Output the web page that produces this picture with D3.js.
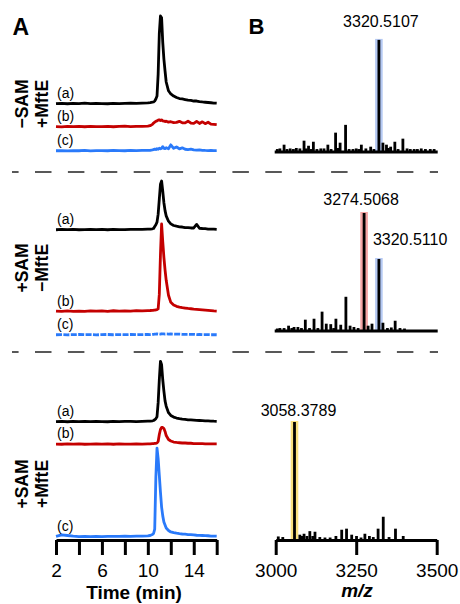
<!DOCTYPE html>
<html lang="en">
<head>
<meta charset="UTF-8">
<title>LC-MS traces</title>
<style>
  * { margin: 0; }
  body { width: 460px; height: 604px; background: #fff; overflow: hidden; }
  svg { display: block; }
  text { font-family: "Liberation Sans", Arial, Helvetica, sans-serif; fill: #000; }
</style>
</head>
<body>
<svg id="chart" width="460" height="604"></svg>
<script src="https://cdn.jsdelivr.net/npm/d3@7"></script>
<script>
// ---- data ----
const timeMin = [2,2.5,3,3.5,4,4.5,5,5.5,6,6.5,7,7.5,8,8.5,9,9.5,10,10.2,10.4,
  10.5,10.6,10.7,10.8,10.9,11,11.1,11.2,11.3,11.4,11.5,11.6,11.8,12,
  12.25,12.5,12.75,13,13.25,13.5,13.75,14,14.25,14.5,14.75,15,15.25,15.5,15.75,16];

// -SAM +MftE
const noSamA = [0.4,0.8,0.3,0.6,0.5,0.9,0.4,0.7,0.5,0.3,0.8,0.5,0.7,1.0,0.6,0.9,1.3, 1.6,2.0,
  2.3,3.4,5.7,9,34,80,100,98,70,51,37.5,25, 15,11.4,
  9,7.4,6.2,5.7,5.1,4.5,4,3.4,3.4,2.8,2.3,2,1.7,1.4,1.1,0.9];
const noSamB = [0.5,0.2,0.7,0.4,0.6,0.3,0.8,0.5,0.4,0.7,0.3,0.6,0.9,0.5,0.8,0.6,1.0, 1.5,3,
  4.5,5.5,6.5,7,7.8,8.2,7.4,8,7,6.8,6.2,6.6, 5.5,6,
  5,5.2,6.4,4.8,4.7,6.6,4.5,4.2,6.3,4,5.9,3.8,5.4,3.3,3,2.6];
const noSamC = [0.3,0.5,0.2,0.4,0.3,0.6,0.2,0.4,0.5,0.3,0.6,0.4,0.3,0.7,0.5,0.6,0.8, 0.8,1.2,
  1.5,2.2,1.6,2.6,2,3.2,2.5,3,5,3,2.6,3.8, 2.6,7,
  3,4.6,2.5,3.6,2,1.6,2.1,1.2,1,1.3,0.8,0.6,0.5,0.7,0.4,0.5];
// +SAM -MftE
const noMftA = [0.3,0.6,0.4,0.7,0.3,0.5,0.8,0.4,0.6,0.3,0.7,0.5,0.4,0.8,0.6,0.7,0.9, 0.9,1.4,
  1.8,4,6,9,18,35,52,55.7,44,31,22,16, 10,7,
  5.1,4.3,3.6,3.4,2.8,2.8,2.3,2.3,6.4,2,1.7,1.5,1.1,1.1,0.9,0.7];
const noMftB = [1.0,0.6,1.2,0.8,1.1,0.7,1.3,0.9,1.2,0.8,1.4,1.0,1.3,1.1,1.5,1.2,1.6, 1.7,1.9,
  2,2.2,2.5,2.8,3.6,20,65,100,80,62,48,36, 19,11,
  8,6.5,5.6,5,4.5,4,3.7,3.3,3,2.7,2.4,2.1,1.8,1.5,1.2,1];
const noMftC = [0.3,0.5,0.2,0.4,0.6,0.3,0.5,0.2,0.4,0.6,0.3,0.5,0.4,0.6,0.3,0.5,0.6, 0.5,0.7,
  0.8,1,0.9,1.2,1,1.3,1.1,1.4,1.2,1.3,1.1,1.2, 1.1,1.2,
  1,0.9,1,0.8,0.7,0.8,0.6,0.7,0.5,0.6,0.4,0.5,0.4,0.3,0.4,0.3];
// +SAM +MftE
const bothA = [0.4,0.7,0.3,0.6,0.5,0.8,0.4,0.6,0.5,0.3,0.7,0.5,0.6,0.8,0.5,0.7,0.9, 0.9,1.4,
  1.7,2.5,3.8,6,22,48,69,65,48,35,24,18, 10.6,7.4,
  5.6,4.5,3.8,3.3,2.9,2.5,2.3,2.1,1.9,1.7,1.5,1.3,1.2,1.1,0.9,0.8];
const bothB = [0.5,0.3,0.7,0.4,0.6,0.3,0.5,0.8,0.4,0.6,0.3,0.7,0.5,0.4,0.6,0.5,0.8, 0.6,0.9,
  1,1.2,1.4,1.7,3.4,11.4,17,19.3,19.3,18.2,14.8,10.2, 5.7,4,
  2.8,2.3,2,1.7,1.7,1.4,1.4,1.1,1,0.9,0.9,0.8,0.7,0.7,0.6,0.6];
const bothC = [0.6,2.3,1.7,0.9,0.5,0.7,0.4,0.6,0.5,0.8,0.6,0.7,0.9,0.8,1.0,1.1,1.3, 1.7,2.8,
  4,9,68,101,89,70,51,34,24,17,13.6,10.2, 7.4,5.7,
  4.9,4.3,3.8,3.4,3.2,2.8,2.6,2.3,2,1.8,1.7,1.5,1.4,1.1,1,0.9];

const rowLabels = [["\u2212SAM", "+MftE"], ["+SAM", "\u2212MftE"], ["+SAM", "+MftE"]];
const traceTags = ["(a)", "(b)", "(c)"];

const timeTicks = [2, 4, 6, 8, 10, 12, 14, 16];
const timeTickLabels = [2, 6, 10, 14];
const mzTicks = [3000, 3250, 3500];

// spectra (m/z, relative intensity %)
const specMzTop = [3005,3013,3026,3035,3045,3055,3064,3075,3088,3095,3102,3110,3117,3128,3140,
  3150,3162,3172,3186,3193,3200,3217,3228,3240,3250,3258,3266,3280,3295,3305,3320.5107,
  3333,3344,3350,3357,3370,3380,3395,3408,3418,3430,3440,3452,3465,3480,3492];
const specIntTop = [2.5,3,6.2,2.5,3,2.5,3.4,3,9.6,3,5.3,2.5,8.7,2.5,3,
  3,6.2,2.5,16.4,3.4,7.9,23,2.5,2.5,3,2.5,6.2,3,4.5,2.5,95,
  7.9,6.2,3.4,4.5,8.7,2.5,11.3,3,2.5,2.5,2.5,3,2.5,2.5,2.5];
const specMzMid = [3005,3013,3026,3040,3050,3057,3069,3080,3092,3105,3119,3131,3144,3157,3171,
  3180,3187,3202,3218,3231,3243,3256,3274.5068,3287,3299,3320.511,3333,3347,3359,3371,3386,3400];
const specIntMid = [2.1,2.5,2.5,4.5,2.5,3.4,3.4,2.5,9.6,2.5,10.4,2.5,16.4,6.2,5.8,
  2.5,10.4,5.3,29,4.5,3.4,2.5,100,4.5,6.2,61,7,2.5,3,8.7,2.5,2.1];
const specMzBot = [3008,3022,3058.3789,3075,3082,3088,3097,3106,3115,3122,3137,3153,3169,3187,
  3205,3220,3236,3251,3265,3277,3291,3303,3318,3334,3352,3372,3396];
const specIntBot = [3,2.5,100,4.5,3.4,5.3,3.4,7.5,3.4,7,2.5,2.1,2.1,3.4,
  8.7,9.6,4.5,3.4,2.1,5.3,3.4,2.5,9.6,19.7,2.5,9.6,3.4];

const peaksTop = [3320.5107], peakTextTop = ["3320.5107"];
const peaksMid = [3274.5068, 3320.511], peakTextMid = ["3274.5068", "3320.5110"];
const peaksBot = [3058.3789], peakTextBot = ["3058.3789"];

// ---- layout ----
const svg = d3.select("#chart");
const colors = ["#000000", "#c40000", "#2a7afa"];
const xTime = d3.scaleLinear().domain([2, 16]).range([56, 216.7]);
const hTrace = d3.scaleLinear().domain([0, 100]).range([0, 88]);
const xMz = d3.scaleLinear().domain([3000, 3500]).range([275.7, 436.7]);
const hPeak = d3.scaleLinear().domain([0, 100]).range([0, 118]);
const shade = { "3320": "#b5c9f3", "3274": "#f4a5a5", "3058": "#f8e07f" };

const groups = [
  { traces: [noSamA, noSamB, noSamC], base: [104, 127, 151], rowY: 104,
    spec: [specMzTop, specIntTop], specBase: 152,
    peaks: peaksTop, texts: peakTextTop, lab: [[2, -13, "middle"]] },
  { traces: [noMftA, noMftB, noMftC], base: [230, 312, 335], rowY: 268,
    spec: [specMzMid, specIntMid], specBase: 331,
    peaks: peaksMid, texts: peakTextMid, lab: [[-3, -8, "middle"], [-6, -14, "start"]] },
  { traces: [bothA, bothB, bothC], base: [422, 444.5, 537], rowY: 484,
    spec: [specMzBot, specIntBot], specBase: 540,
    peaks: peaksBot, texts: peakTextBot, lab: [[4, -6, "middle"]] }
];

groups.forEach((g, gi) => {
  // row labels
  const rowX = [27.5, 47.5];
  rowLabels[gi].forEach((t, k) => {
    svg.append("text")
      .attr("transform", `translate(${rowX[k]},${g.rowY}) rotate(-90)`)
      .attr("text-anchor", "middle")
      .attr("font-size", 17.5).attr("font-weight", "bold")
      .text(t);
  });

  // chromatograms
  g.traces.forEach((vals, k) => {
    const base = g.base[k];
    const line = d3.line()
      .x((d, i) => xTime(timeMin[i]))
      .y(d => base - hTrace(d));
    svg.append("path")
      .datum(vals)
      .attr("d", line)
      .attr("fill", "none")
      .attr("stroke", colors[k])
      .attr("stroke-width", 2.8)
      .attr("stroke-linejoin", "round")
      .attr("stroke-dasharray", gi === 1 && k === 2 ? "6 1.4" : null);
    svg.append("text")
      .attr("x", 57).attr("y", base - 6.5)
      .attr("font-size", 14)
      .text(traceTags[k]);
  });

  // spectra
  const [mz, inten] = g.spec;
  const sb = g.specBase;
  const gs = svg.append("g");
  g.peaks.forEach((p, k) => {
    const i = mz.indexOf(p);
    const top = sb - hPeak(inten[i]);
    gs.append("rect")
      .attr("x", xMz(p) - 3.8).attr("width", 7.6)
      .attr("y", top - 1).attr("height", sb - top + 1)
      .attr("fill", shade[String(Math.floor(p))]);
    const [dx, dy, anchor] = g.lab[k];
    svg.append("text")
      .attr("x", xMz(p) + dx).attr("y", top + dy)
      .attr("text-anchor", anchor)
      .attr("font-size", 16)
      .text(g.texts[k]);
  });
  gs.selectAll("rect.bar")
    .data(mz.map((m, i) => ({ m, v: inten[i] })))
    .join("rect")
    .attr("class", "bar")
    .attr("x", d => xMz(d.m) - 1.4).attr("width", 2.8)
    .attr("y", d => sb - hPeak(d.v)).attr("height", d => hPeak(d.v))
    .attr("fill", "#000");
  if (gi < 2) {
    gs.append("line")
      .attr("x1", xMz(3000) - 1).attr("x2", xMz(3500) + 1)
      .attr("y1", sb).attr("y2", sb)
      .attr("stroke", "#000").attr("stroke-width", 3);
  }
});

// dashed separators
[172, 352].forEach(y => {
  svg.append("line")
    .attr("x1", 12).attr("x2", 438).attr("y1", y).attr("y2", y)
    .attr("stroke", "#222").attr("stroke-width", 1.6)
    .attr("stroke-dasharray", "16.5 16.4").attr("stroke-dashoffset", 9.9);
});

// axes
function styleAxis(sel) {
  sel.select(".domain").attr("stroke-width", 3);
  sel.selectAll(".tick line").attr("stroke-width", 3);
  sel.selectAll(".tick text")
    .attr("font-family", '"Liberation Sans", Arial, sans-serif')
    .attr("font-size", 19).attr("fill", "#000");
}
svg.append("g")
  .attr("transform", "translate(0,540)")
  .call(d3.axisBottom(xTime).tickValues(timeTicks).tickSize(15).tickSizeOuter(0).tickPadding(8.5)
    .tickFormat(d => timeTickLabels.includes(d) ? d : ""))
  .call(styleAxis);
svg.append("g")
  .attr("transform", "translate(0,540)")
  .call(d3.axisBottom(xMz).tickValues(mzTicks).tickSize(15).tickSizeOuter(0).tickPadding(8.5)
    .tickFormat(d3.format("d")))
  .call(styleAxis);

svg.append("text").attr("x", 134).attr("y", 599).attr("text-anchor", "middle")
  .attr("font-size", 19).attr("font-weight", "bold").text("Time (min)");
svg.append("text").attr("x", 357).attr("y", 597).attr("text-anchor", "middle")
  .attr("font-size", 19).attr("font-weight", "bold").attr("font-style", "italic").text("m/z");

// panel letters
svg.append("text").attr("x", 12.5).attr("y", 35).attr("font-size", 23).attr("font-weight", "bold").text("A");
svg.append("text").attr("x", 248.5).attr("y", 34).attr("font-size", 22).attr("font-weight", "bold").text("B");
</script>
</body>
</html>
